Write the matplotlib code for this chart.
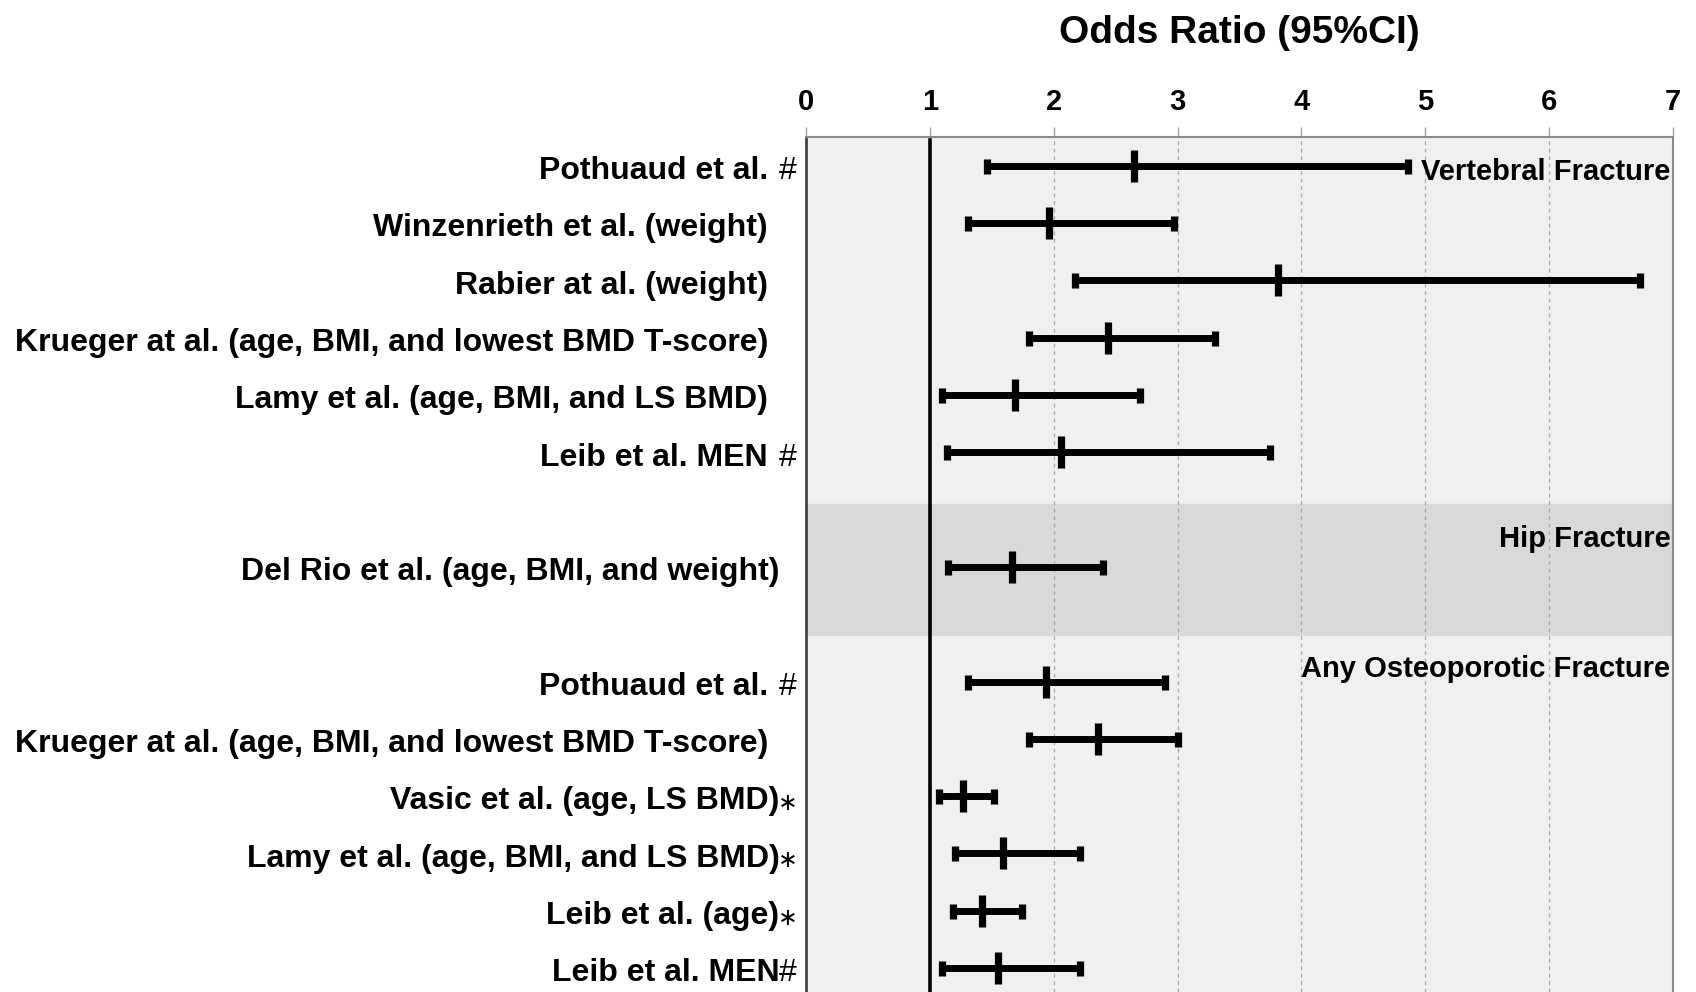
import numpy as np
import matplotlib
matplotlib.use("Agg")
import matplotlib.pyplot as plt

plt.rcParams["font.family"] = ["Liberation Sans", "DejaVu Sans"]

# study labels (bold part) and the marker that follows them
labels = [
    "Pothuaud et al.",
    "Winzenrieth et al. (weight)",
    "Rabier at al. (weight)",
    "Krueger at al. (age, BMI, and lowest BMD T-score)",
    "Lamy et al. (age, BMI, and LS BMD)",
    "Leib et al. MEN",
    "Del Rio et al. (age, BMI, and weight)",
    "Pothuaud et al.",
    "Krueger at al. (age, BMI, and lowest BMD T-score)",
    "Vasic et al. (age, LS BMD)",
    "Lamy et al. (age, BMI, and LS BMD)",
    "Leib et al. (age)",
    "Leib et al. MEN",
]
markers = ["#", "", "", "", "", "#", "", "#", "", "\u2217", "\u2217", "\u2217", "#"]
groups = ["vert"] * 6 + ["hip"] + ["any"] * 6

odds = [2.65, 1.96, 3.81, 2.44, 1.69, 2.06, 1.66, 1.94, 2.36, 1.27, 1.59, 1.42, 1.55]
ci_low = [1.46, 1.31, 2.17, 1.80, 1.10, 1.14, 1.15, 1.31, 1.80, 1.07, 1.20, 1.19, 1.10]
ci_high = [4.86, 2.97, 6.73, 3.30, 2.70, 3.75, 2.40, 2.90, 3.00, 1.52, 2.21, 1.74, 2.21]

group_titles = ["Vertebral Fracture", "Hip Fracture", "Any Osteoporotic Fracture"]
xticks = [0, 1, 2, 3, 4, 5, 6, 7]

# row positions: blank row between groups
rows = []
r = 0
prev = groups[0]
for g in groups:
    if g != prev:
        r += 1
        prev = g
    rows.append(r)
    r += 1
rows = np.array(rows, dtype=float)

odds = np.array(odds)
ci_low = np.array(ci_low)
ci_high = np.array(ci_high)

fig = plt.figure(figsize=(16.96, 9.92), dpi=100)
ax = fig.add_axes([806 / 1696, 0.0, 867 / 1696, 1 - 136.7 / 992])
ax.set_facecolor("#f0f0f0")

ax.set_xlim(0, 7)
ax.set_ylim(14.42, -0.51)

# hip fracture band
hip_rows = rows[np.array(groups) == "hip"]
ax.axhspan(hip_rows.min() - 1.1, hip_rows.max() + 1.19, color="#d9d9d9", zorder=0)

ax.set_xticks(xticks)
ax.xaxis.grid(True, linestyle=(0, (3, 3)), color="#a8a8a8", linewidth=0.9)
ax.set_axisbelow(True)
ax.xaxis.tick_top()
ax.tick_params(axis="x", colors="#a0a0a0", length=7, width=1.0, pad=8, labelsize=21,
               labelcolor="black")
for lab in ax.get_xticklabels():
    lab.set_fontweight("bold")
ax.set_yticks([])

ax.spines["bottom"].set_visible(False)
ax.spines["top"].set_color("#8a8a8a")
ax.spines["top"].set_linewidth(1.5)
ax.spines["right"].set_color("#8a8a8a")
ax.spines["right"].set_linewidth(1.5)
ax.spines["left"].set_color("#444444")
ax.spines["left"].set_linewidth(2.0)

ax.plot([1, 1], [-0.45, 14.42], color="black", linewidth=2.6, zorder=2)

ax.errorbar(odds, rows, xerr=[odds - ci_low, ci_high - odds], fmt="|", color="black",
            markersize=23, markeredgewidth=5.2, elinewidth=5.0, capsize=5.4, capthick=5.4,
            zorder=3)

# row labels
trans = ax.get_yaxis_transform()
for lab, mk, y in zip(labels, markers, rows):
    tight = mk == "\u2217" or (mk == "#" and y == rows[-1]) or lab.startswith("Del Rio")
    x_lab = -0.0305 if tight else -0.0438
    ax.text(x_lab, y + 0.09, lab, transform=trans, ha="right", va="center", fontsize=23,
            fontweight="bold", clip_on=False)
    if mk == "#":
        ax.text(-0.0104, y + 0.09, mk, transform=trans, ha="right", va="center",
                fontsize=23, clip_on=False)
    elif mk:
        ax.text(-0.0100, y + 0.12, mk, transform=trans, ha="right", va="center",
                fontsize=17, family=["DejaVu Sans"], clip_on=False)

# group titles in the right corner
title_rows = [0.1, 6.52, 8.78]
for t, y in zip(group_titles, title_rows):
    ax.text(6.98, y, t, ha="right", va="center", fontsize=21, fontweight="bold", zorder=4)

fig.text((806 + 1673) / 2 / 1696, 1 - 33 / 992, "Odds Ratio (95%CI)", ha="center",
         va="center", fontsize=28, fontweight="bold")

fig.savefig("out.png", dpi=100, facecolor="white")
